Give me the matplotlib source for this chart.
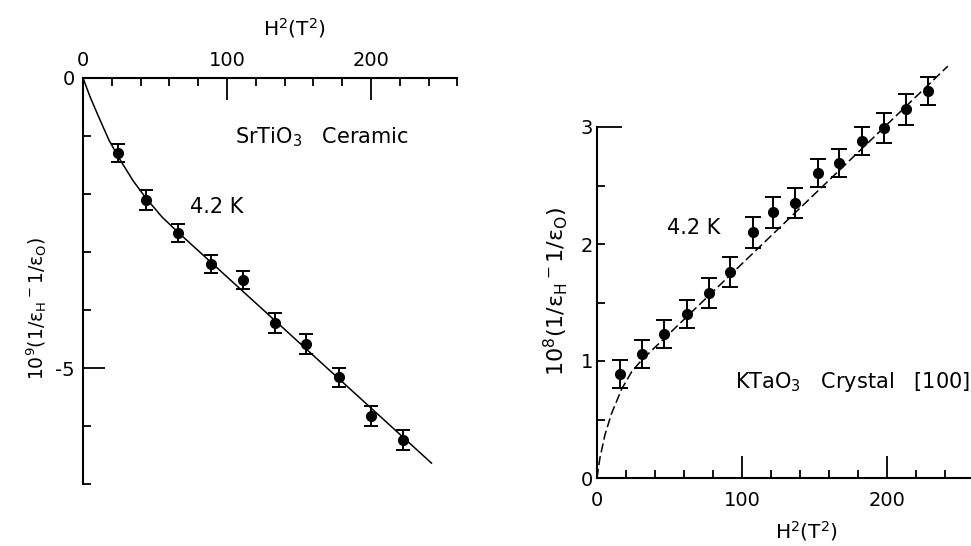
import numpy as np
import matplotlib
matplotlib.use('Agg')
import matplotlib.pyplot as plt

plt.rcParams['font.family'] = ['DejaVu Sans']
plt.rcParams['mathtext.default'] = 'regular'

# SrTiO3 ceramic, 4.2 K  (H^2 in T^2, 10^9 (1/eps_H - 1/eps_0))
sr_h2 = [24, 44, 66, 89, 111, 133, 155, 178, 200, 222]
sr_val = [-1.29, -2.10, -2.67, -3.21, -3.48, -4.22, -4.59, -5.16, -5.83, -6.24]
sr_err = [0.16, 0.17, 0.16, 0.16, 0.15, 0.17, 0.17, 0.16, 0.17, 0.17]
# fitted curve
sr_fit_x = [0, 5, 10, 18, 25, 35, 44, 55, 66, 242]
sr_fit_y = [0, -0.33, -0.62, -1.07, -1.38, -1.78, -2.08, -2.40, -2.66, -6.64]

# KTaO3 crystal [100], 4.2 K  (10^8 (1/eps_H - 1/eps_0))
kt_h2 = [15.9, 31.2, 46.4, 61.9, 77.0, 91.7, 107.4, 121.6, 136.6, 152.2,
         166.9, 182.6, 197.9, 213.1, 228.5]
kt_val = [0.89, 1.06, 1.23, 1.40, 1.58, 1.76, 2.10, 2.27, 2.35, 2.61,
          2.69, 2.88, 2.99, 3.15, 3.31]
kt_err = [0.12, 0.12, 0.12, 0.12, 0.13, 0.13, 0.13, 0.13, 0.13, 0.12,
          0.12, 0.12, 0.13, 0.13, 0.12]
kt_fit_x = [0, 2, 5.5, 10, 17, 24, 31, 242]
kt_fit_y = [0, 0.17, 0.37, 0.55, 0.76, 0.91, 1.01, 3.52]

W, H = 971, 546
fig = plt.figure(figsize=(W / 100, H / 100), dpi=100)

# ---- left panel ----
ax1 = fig.add_axes([83 / W, (H - 484) / H, 374.4 / W, 406 / H])
ax1.plot(sr_fit_x, sr_fit_y, color='black', lw=1.1)
ax1.errorbar(sr_h2, sr_val, yerr=sr_err, fmt='o', color='black', ms=7,
             capsize=5, elinewidth=1.4, capthick=1.4)
ax1.set_xlim(0, 260)
ax1.set_ylim(-7, 0)
for s in ['bottom', 'right']:
    ax1.spines[s].set_visible(False)
for s in ['top', 'left']:
    ax1.spines[s].set_linewidth(1.5)
ax1.xaxis.tick_top()
ax1.set_xticks([0, 100, 200])
ax1.set_xticklabels(['0', '100', '200'])
ax1.set_xticks(range(20, 261, 20), minor=True)
ax1.set_yticks([0, -5])
ax1.set_yticklabels(['0', '-5'])
ax1.set_yticks([-1, -2, -3, -4, -6, -7], minor=True)
ax1.tick_params(which='both', direction='in', width=1.3, labelsize=14)
ax1.tick_params(which='major', length=16, pad=6)
ax1.tick_params(which='minor', length=6)
ax1.text(105.5, -1.02, r'SrTiO$_3$   Ceramic', fontsize=15, va='center')
ax1.text(74, -2.22, '4.2 K', fontsize=15, va='center')
fig.text(294 / W, 1 - 28 / H, r'H$^2$(T$^2$)', fontsize=14.5, ha='center', va='center')
fig.text(37 / W, 1 - 308 / H, r'10$^9$(1/$\varepsilon_H$$^-$1/$\varepsilon_O$)',
         fontsize=13.5, rotation=90, ha='center', va='center')

# ---- right panel ----
ax2 = fig.add_axes([597 / W, (H - 478) / H, 374 / W, 351 / H])
ax2.plot(kt_fit_x, kt_fit_y, color='black', lw=1.1, dashes=(6, 2.5),
         clip_on=False)
ax2.errorbar(kt_h2, kt_val, yerr=kt_err, fmt='o', color='black', ms=7,
             capsize=5.5, elinewidth=1.4, capthick=1.4, clip_on=False)
ax2.set_xlim(0, 258)
ax2.set_ylim(0, 3)
for s in ['top', 'right']:
    ax2.spines[s].set_visible(False)
for s in ['bottom', 'left']:
    ax2.spines[s].set_linewidth(1.5)
ax2.set_xticks([0, 100, 200])
ax2.set_xticks(range(20, 241, 20), minor=True)
ax2.set_yticks([0, 1, 2, 3])
ax2.set_yticks([0.5, 1.5, 2.5], minor=True)
ax2.tick_params(which='both', direction='in', width=1.3, labelsize=14)
ax2.tick_params(axis='x', which='major', length=16, pad=9)
ax2.tick_params(axis='y', which='major', length=6, pad=3)
ax2.tick_params(which='minor', length=6)
ax2.yaxis.get_major_ticks()[3].tick1line.set_markersize(18)
ax2.text(48.3, 2.14, '4.2 K', fontsize=15, va='center')
ax2.text(95.2, 0.82, r'KTaO$_3$   Crystal   [100]', fontsize=15, va='center')
fig.text(806 / W, 1 - 531 / H, r'H$^2$(T$^2$)', fontsize=14.5, ha='center', va='center')
fig.text(556 / W, 1 - 291 / H, r'10$^8$(1/$\varepsilon_H$$^-$1/$\varepsilon_O$)',
         fontsize=16, rotation=90, ha='center', va='center')

fig.savefig('out.png', dpi=100)
